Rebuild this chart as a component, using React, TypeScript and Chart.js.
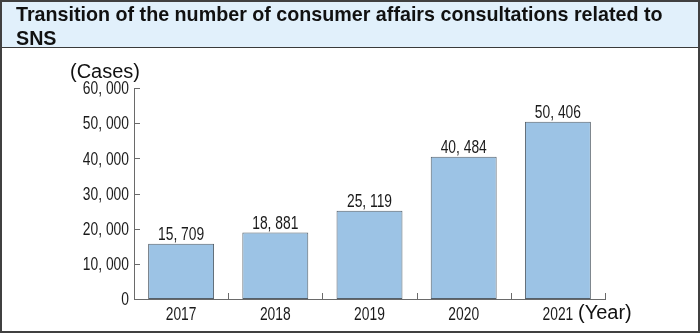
import React, { useEffect, useRef } from "react";
import { Chart, registerables } from "chart.js";

Chart.register(...registerables);

const titleText = "Transition of the number of consumer affairs consultations related to SNS";
const years = ["2017", "2018", "2019", "2020", "2021"];
const consultations = [15709, 18881, 25119, 40484, 50406];
const yTicks = [0, 10000, 20000, 30000, 40000, 50000, 60000];
const yUnit = "(Cases)";
const xUnit = "(Year)";

const LABEL_FONT = '17.5px "Liberation Sans", Arial, sans-serif';
const SQUEEZE = 0.79;
const AXIS_COLOR = "#6a6a6a";
const TEXT_COLOR = "#1a1a1a";

const fmt = (v: number) => v.toLocaleString("en-US").replace(/,/g, ", ");

function narrowText(ctx: CanvasRenderingContext2D, text: string, x: number, y: number, align: CanvasTextAlign, baseline: CanvasTextBaseline) {
  ctx.save();
  ctx.translate(x, y);
  ctx.scale(SQUEEZE, 1);
  ctx.font = LABEL_FONT;
  ctx.fillStyle = TEXT_COLOR;
  ctx.textAlign = align;
  ctx.textBaseline = baseline;
  ctx.fillText(text, 0, 0);
  ctx.restore();
}

const axisDecor = {
  id: "axisDecor",
  afterDraw(chart: any) {
    const { ctx, chartArea, scales } = chart;
    const y = scales.y;
    const x = scales.x;
    ctx.save();
    ctx.strokeStyle = AXIS_COLOR;
    ctx.lineWidth = 1;
    ctx.beginPath();
    y.ticks.forEach((t: any) => {
      const py = Math.round(y.getPixelForValue(t.value)) + 0.5;
      ctx.moveTo(chartArea.left, py);
      ctx.lineTo(chartArea.left + 6, py);
    });
    const n = x.ticks.length;
    const step = (x.right - x.left) / n;
    for (let k = 1; k <= n; k++) {
      const px = Math.round(x.left + k * step) + 0.5;
      ctx.moveTo(px, chartArea.bottom);
      ctx.lineTo(px, chartArea.bottom - 6);
    }
    ctx.stroke();
    ctx.restore();

    // y tick labels
    y.ticks.forEach((t: any) => {
      const py = y.getPixelForValue(t.value);
      narrowText(ctx, fmt(t.value), chartArea.left - 5, py + 6.3, "right", "alphabetic");
    });
    // x tick labels
    const labels = chart.data.labels as string[];
    labels.forEach((lab: string, i: number) => {
      const px = x.getPixelForValue(i);
      narrowText(ctx, lab, px, chartArea.bottom + 21, "center", "alphabetic");
    });
  },
};

const valueLabels = {
  id: "valueLabels",
  afterDatasetsDraw(chart: any) {
    const meta = chart.getDatasetMeta(0);
    const data = chart.data.datasets[0].data as number[];
    meta.data.forEach((bar: any, i: number) => {
      narrowText(chart.ctx, fmt(data[i]), bar.x, bar.y - 4, "center", "alphabetic");
    });
  },
};

export default function App() {
  const canvasRef = useRef<HTMLCanvasElement | null>(null);

  useEffect(() => {
    if (!canvasRef.current) return;
    const chart = new Chart(canvasRef.current, {
      type: "bar",
      data: {
        labels: years,
        datasets: [
          {
            data: consultations,
            backgroundColor: "#9cc3e5",
            borderColor: "#55606a",
            borderWidth: 1,
            borderSkipped: false,
            barPercentage: 0.7,
            categoryPercentage: 1,
          },
        ],
      },
      options: {
        animation: false,
        responsive: false,
        maintainAspectRatio: false,
        layout: { padding: { left: 0, top: 88, right: 95, bottom: 0 } },
        plugins: {
          legend: { display: false },
          title: { display: false },
          tooltip: { enabled: false },
        },
        scales: {
          x: {
            grid: { display: false, drawTicks: false },
            border: { display: true, color: AXIS_COLOR, width: 1 },
            ticks: { display: false },
            afterFit(scale: any) {
              scale.height = 34;
            },
          },
          y: {
            min: 0,
            max: 60000,
            afterBuildTicks(scale: any) {
              scale.ticks = yTicks.map((v) => ({ value: v }));
            },
            grid: { display: false, drawTicks: false },
            border: { display: true, color: AXIS_COLOR, width: 1 },
            ticks: { display: false },
            afterFit(scale: any) {
              scale.width = 134;
            },
          },
        },
      },
      plugins: [axisDecor, valueLabels],
    });
    return () => chart.destroy();
  }, []);

  return (
    <div
      style={{
        position: "fixed",
        left: 0,
        top: 0,
        width: 700,
        height: 333,
        background: "#fff",
        overflow: "hidden",
      }}
    >
      <canvas
        ref={canvasRef}
        width={700}
        height={333}
        style={{ position: "absolute", left: 0, top: 0, width: 700, height: 333 }}
      />
      <div
        style={{
          position: "absolute",
          left: 0,
          top: 0,
          width: 700,
          height: 48,
          boxSizing: "border-box",
          background: "#e1f0fb",
          borderBottom: "1px solid #3a3a3a",
          padding: "2px 0 0 16px",
          font: 'bold 19.7px "Liberation Sans", Arial, sans-serif',
          lineHeight: "24px",
          color: "#111",
        }}
      >
        {titleText}
      </div>
      <div
        style={{
          position: "absolute",
          left: 70,
          top: 59,
          font: '20px "Liberation Sans", Arial, sans-serif',
          lineHeight: "24px",
          color: "#111",
          whiteSpace: "nowrap",
        }}
      >
        {yUnit}
      </div>
      <div
        style={{
          position: "absolute",
          left: 578,
          top: 300,
          font: '20px "Liberation Sans", Arial, sans-serif',
          lineHeight: "24px",
          color: "#111",
          whiteSpace: "nowrap",
        }}
      >
        {xUnit}
      </div>
      <div
        style={{
          position: "absolute",
          left: 0,
          top: 0,
          width: 700,
          height: 333,
          boxSizing: "border-box",
          border: "2px solid #404040",
          pointerEvents: "none",
        }}
      />
    </div>
  );
}
